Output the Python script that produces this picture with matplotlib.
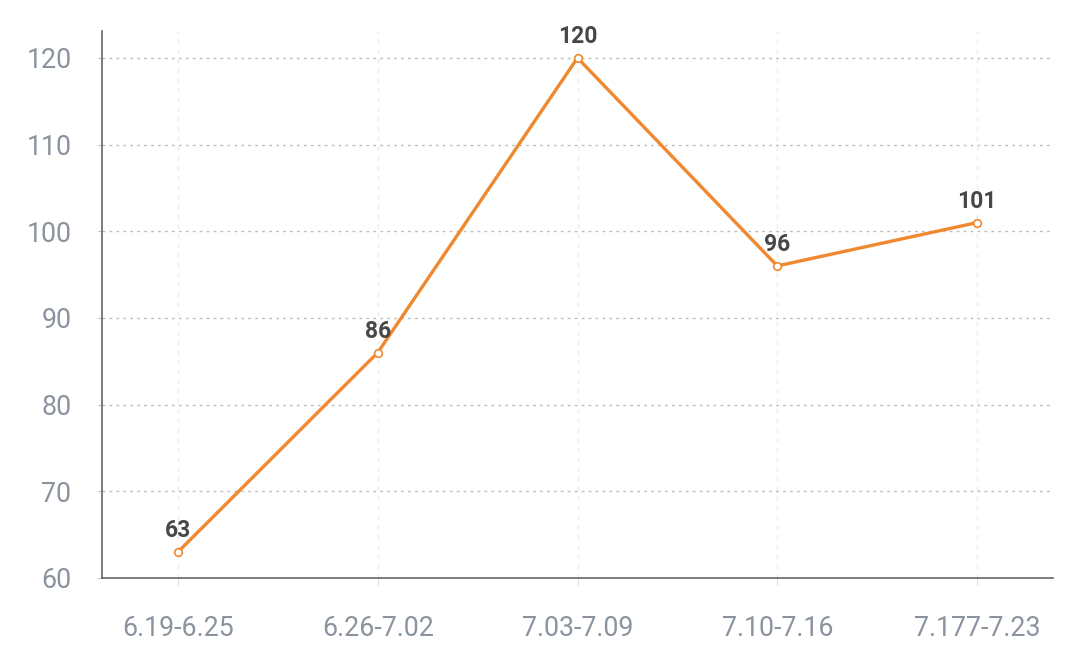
import matplotlib
matplotlib.use("Agg")
import matplotlib.pyplot as plt

categories = ["6.19-6.25", "6.26-7.02", "7.03-7.09", "7.10-7.16", "7.177-7.23"]
values = [63, 86, 120, 96, 101]
yticks = [60, 70, 80, 90, 100, 110, 120]

plt.rcParams['font.family'] = ['Roboto', 'DejaVu Sans']

fig = plt.figure(figsize=(10.8, 6.69), dpi=100)
ax = fig.add_axes([102/1080, 1-578/669, (1053-102)/1080, (578-31)/669])

x = list(range(len(categories)))
ax.plot(x, values, color='#f0882f', lw=2.4, marker='o', markersize=5.5,
        markerfacecolor='white', markeredgecolor='#f0882f', markeredgewidth=1.2, zorder=3)
for xi, v in zip(x, values):
    ax.annotate(str(v), (xi, v), xytext=(0, 7), textcoords='offset points',
                ha='center', va='bottom', fontsize=16.5, fontweight='bold', color='#474747')

ax.set_xlim(-0.38, 4.38)
ax.set_ylim(60, 123.1)
ax.set_xticks(x)
ax.set_xticklabels(categories)
ax.set_yticks(yticks)

ax.grid(axis='y', linestyle=(0, (2, 3)), color='#bdbdbd', lw=1)
ax.grid(axis='x', linestyle=(0, (3, 4)), color='#ebebeb', lw=1)
ax.set_axisbelow(True)

for s in ['top', 'right']:
    ax.spines[s].set_visible(False)
for s in ['left', 'bottom']:
    ax.spines[s].set_color('#666666')
    ax.spines[s].set_linewidth(1.2)

ax.tick_params(axis='x', length=5, color='#dddddd', pad=22, labelsize=19.3, labelcolor='#8a939e')
ax.tick_params(axis='y', length=3, color='#bdbdbd', pad=19, labelsize=19.3, labelcolor='#8a939e')

fig.savefig("out.png", dpi=100)
